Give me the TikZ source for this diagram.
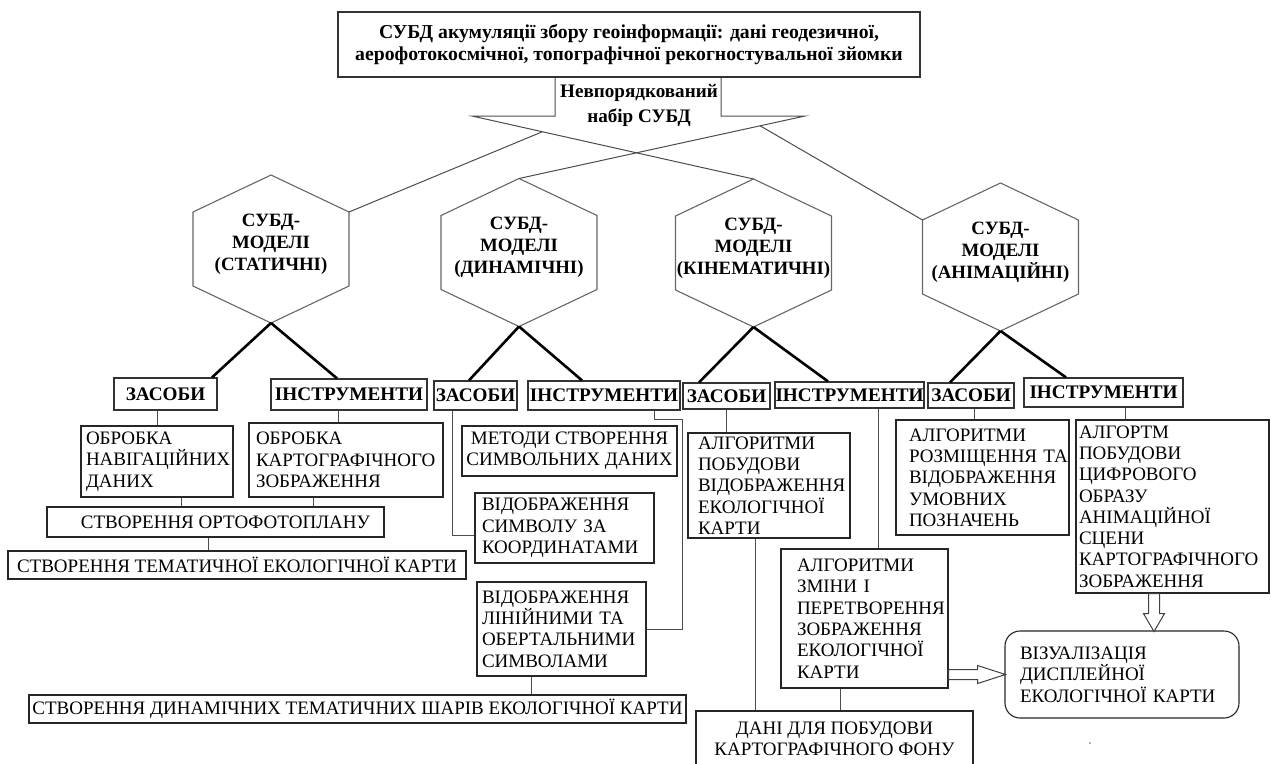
\documentclass[tikz,border=0pt]{standalone}
\usepackage{fontspec}
\setmainfont{Liberation Serif}
\usepackage{tikz}
\usetikzlibrary{calc}
\tikzset{
  top_box/.style={rectangle, draw=black!80, line width=1.2pt, inner sep=0pt, align=center, font=\fontsize{19.7}{21.5}\selectfont\bfseries},
  callout_label/.style={inner sep=0pt, align=center, font=\fontsize{19.1}{25}\selectfont\bfseries},
  hex_line/.style={draw=black!60, line width=1.1pt, line join=miter},
  hex_text/.style={inner sep=0pt, align=center, font=\fontsize{18.8}{22}\selectfont\bfseries},
  tool_box/.style={rectangle, draw=black!80, line width=1.2pt, inner sep=0pt, font=\fontsize{19.2}{21}\selectfont\bfseries},
  op_box/.style={rectangle, draw=black!85, line width=1.1pt, inner ysep=0pt, align=left, font=\fontsize{19}{21.3}\selectfont},
  op_box_c/.style={op_box, align=center, inner xsep=0pt},
  vis_box/.style={op_box, rounded corners=15pt},
  link/.style={draw=black!70, line width=1pt},
  branch/.style={draw=black, line width=2.6pt},
  fat_arrow/.style={draw=black!75, fill=white, line width=1pt, line join=miter}
}

\begin{document}
\begin{tikzpicture}[x=1pt, y=-1pt]
    \useasboundingbox (0,0) rectangle (1271,763);

    % Source DBMS and the unsorted set
    \node[top_box, minimum width=582, minimum height=65] (source) at (629,44.5) {СУБД акумуляції збору геоінформації: дані геодезичної,\\аерофотокосмічної, топографічної рекогностувальної зйомки};
    \node[callout_label] (unsorted) at (639,105) {Невпорядкований\\набір СУБД};
    \coordinate (neck_l) at (555,116);
    \coordinate (neck_r) at (721,116);
    \coordinate (call_l) at (472,116);
    \coordinate (call_r) at (805,116);

    % Model hexagons (text sits a little above the centre)
    \node[hex_text] (hex_stat) at (271,244) {СУБД-\\МОДЕЛІ\\(СТАТИЧНІ)};
    \node[hex_text] (hex_dyn) at (519,247.5) {СУБД-\\МОДЕЛІ\\(ДИНАМІЧНІ)};
    \node[hex_text] (hex_kin) at (753.5,248) {СУБД-\\МОДЕЛІ\\(КІНЕМАТИЧНІ)};
    \node[hex_text] (hex_anim) at (1000.5,252) {СУБД-\\МОДЕЛІ\\(АНІМАЦІЙНІ)};
    \foreach \h in {hex_stat,hex_dyn,hex_kin,hex_anim}
      \draw[hex_line] (\h.center) ++(0,-69) coordinate (\h_top) -- ++(78,37) coordinate (\h_tr) -- ++(0,74) -- ++(-78,37) coordinate (\h_bot) -- ++(-78,-37) -- ++(0,-74) coordinate (\h_tl) -- cycle;

    \draw[link] (neck_l |- source.south) -- (neck_l) -- (call_l) -- (hex_kin_top);
    \draw[link] (neck_r |- source.south) -- (neck_r) -- (call_r) -- (hex_dyn_top);
    \draw[link] ($(call_l)!0.25!(hex_kin_top)$) -- (hex_stat_tr);
    \draw[link] ($(call_r)!0.157!(hex_dyn_top)$) -- (hex_anim_tl);

    % Means and tools
    \node[tool_box, minimum width=103, minimum height=32] (zas_stat) at (165.5,394) {ЗАСОБИ};
    \node[tool_box, minimum width=156, minimum height=31] (inst_stat) at (349,394.5) {ІНСТРУМЕНТИ};
    \node[tool_box, minimum width=83, minimum height=29] (zas_dyn) at (475.5,395.5) {ЗАСОБИ};
    \node[tool_box, minimum width=152, minimum height=29] (inst_dyn) at (604,395.5) {ІНСТРУМЕНТИ};
    \node[tool_box, minimum width=87, minimum height=26] (zas_kin) at (726.5,396) {ЗАСОБИ};
    \node[tool_box, minimum width=149, minimum height=26] (inst_kin) at (849.5,395) {ІНСТРУМЕНТИ};
    \node[tool_box, minimum width=86, minimum height=25] (zas_anim) at (971,395.5) {ЗАСОБИ};
    \node[tool_box, minimum width=159, minimum height=29] (inst_anim) at (1103.5,392.5) {ІНСТРУМЕНТИ};

    \draw[branch] (hex_stat_bot) -- ([xshift=46.5pt]zas_stat.north);
    \draw[branch] (hex_stat_bot) -- ([xshift=-12pt]inst_stat.north);
    \draw[branch] (hex_dyn_bot) -- ([xshift=-6.5pt]zas_dyn.north);
    \draw[branch] (hex_dyn_bot) -- ([xshift=-22pt]inst_dyn.north);
    \draw[branch] (hex_kin_bot) -- ([xshift=-27.5pt]zas_kin.north);
    \draw[branch] (hex_kin_bot) -- ([xshift=-21.5pt]inst_kin.north);
    \draw[branch] (hex_anim_bot) -- ([xshift=-21pt]zas_anim.north);
    \draw[branch] (hex_anim_bot) -- ([xshift=-37.5pt]inst_anim.north);

    % Static branch
    \node[op_box, text width=142, inner xsep=5, minimum height=71] (navig) at (157,461.5) {ОБРОБКА\\НАВІГАЦІЙНИХ\\ДАНИХ};
    \node[op_box, text width=180, inner xsep=7, minimum height=74] (kartobr) at (346,460) {ОБРОБКА\\КАРТОГРАФІЧНОГО\\ЗОБРАЖЕННЯ};
    \node[op_box_c, minimum width=337, minimum height=30] (orto) at (215.5,522) {\hspace*{20pt}СТВОРЕННЯ ОРТОФОТОПЛАНУ};
    \node[op_box_c, minimum width=458, minimum height=28] (them) at (237,565) {СТВОРЕННЯ ТЕМАТИЧНОЇ ЕКОЛОГІЧНОЇ КАРТИ};

    \draw[link] (navig.north) -- (navig.north |- zas_stat.south);
    \draw[link] ([xshift=-8pt]kartobr.north) -- ([xshift=-8pt]kartobr.north |- inst_stat.south);
    \draw[link] ([xshift=24pt]navig.south) -- ([xshift=24pt]navig.south |- orto.north);
    \draw[link] ([xshift=-33pt]kartobr.south) -- ([xshift=-33pt]kartobr.south |- orto.north);
    \draw[link] ([xshift=-7.5pt]orto.south) -- ([xshift=-7.5pt]orto.south |- them.north);

    % Dynamic branch
    \node[op_box_c, minimum width=215, minimum height=50] (metody) at (569.5,451) {МЕТОДИ СТВОРЕННЯ\\СИМВОЛЬНИХ ДАНИХ};
    \node[op_box, text width=165, inner xsep=7, minimum height=70] (simvol) at (564.5,528) {ВІДОБРАЖЕННЯ\\СИМВОЛУ~ЗА\\КООРДИНАТАМИ};
    \node[op_box, text width=159, inner xsep=5, minimum height=94] (linsym) at (561.5,629) {ВІДОБРАЖЕННЯ\\ЛІНІЙНИМИ~ТА\\ОБЕРТАЛЬНИМИ\\СИМВОЛАМИ};
    \node[op_box_c, minimum width=657, minimum height=28] (dynlayers) at (357.5,709) {СТВОРЕННЯ ДИНАМІЧНИХ ТЕМАТИЧНИХ ШАРІВ ЕКОЛОГІЧНОЇ КАРТИ};

    \draw[link] ([xshift=-23.5pt]zas_dyn.south) |- ([yshift=-7pt]simvol.west);
    \draw[link] ([xshift=50pt]inst_dyn.south) -- ++(0,9) -- ++(28,0) |- (linsym.east);
    \draw[link] ([xshift=-30.5pt]linsym.south) -- ([xshift=-30.5pt]linsym.south |- dynlayers.north);

    % Kinematic branch
    \node[op_box, text width=142, inner xsep=10, minimum height=105] (alg_pob) at (769,485.5) {АЛГОРИТМИ\\ПОБУДОВИ\\ВІДОБРАЖЕННЯ\\ЕКОЛОГІЧНОЇ\\КАРТИ};
    \node[op_box, text width=135, inner xsep=16, minimum height=139] (alg_zmin) at (864.5,618.5) {АЛГОРИТМИ\\ЗМІНИ~І\\ПЕРЕТВОРЕННЯ\\ЗОБРАЖЕННЯ\\ЕКОЛОГІЧНОЇ\\КАРТИ};
    \node[op_box_c, minimum width=277, minimum height=56] (dani) at (834.5,739) {ДАНІ ДЛЯ ПОБУДОВИ\\КАРТОГРАФІЧНОГО ФОНУ};

    \draw[link] (zas_kin.south) -- (zas_kin.south |- alg_pob.north);
    \draw[link] ([xshift=-14pt]alg_pob.south) -- ([xshift=-14pt]alg_pob.south |- dani.north);
    \draw[link] ([xshift=28.5pt]inst_kin.south) -- ([xshift=28.5pt]inst_kin.south |- alg_zmin.north);
    \draw[link] ([xshift=-24.5pt]alg_zmin.south) -- ([xshift=-24.5pt]alg_zmin.south |- dani.north);

    % Animation branch
    \node[op_box, text width=147, inner xsep=13, minimum height=115] (alg_rozm) at (982.5,477.5) {АЛГОРИТМИ\\РОЗМІЩЕННЯ~ТА\\ВІДОБРАЖЕННЯ\\УМОВНИХ\\ПОЗНАЧЕНЬ};
    \node[op_box, text width=187, inner xsep=3, minimum height=173] (alg_anim) at (1172.5,506.5) {АЛГОРТМ\\ПОБУДОВИ\\ЦИФРОВОГО\\ОБРАЗУ\\АНІМАЦІЙНОЇ\\СЦЕНИ\\КАРТОГРАФІЧНОГО\\ЗОБРАЖЕННЯ};
    \node[vis_box, text width=204, inner xsep=15, minimum height=87] (vis) at (1122,674.5) {ВІЗУАЛІЗАЦІЯ\\ДИСПЛЕЙНОЇ\\ЕКОЛОГІЧНОЇ~КАРТИ};

    \draw[link] ([xshift=3pt]zas_anim.south) -- ([xshift=3pt]zas_anim.south |- alg_rozm.north);
    \draw[link] ([xshift=21.5pt]inst_anim.south) -- ([xshift=21.5pt]inst_anim.south |- alg_anim.north);

    % Hollow arrows into the display map
    \draw[fat_arrow] ([xshift=-18.5pt]alg_anim.south) ++(-5.5,0) -- ++(0,20) -- ++(-5,0) -- ++(10.5,18) -- ++(10.5,-18) -- ++(-5,0) -- ++(0,-20) -- cycle;
    \draw[fat_arrow] (alg_zmin.east |- vis.west) ++(0,-5) -- ++(29,0) -- ++(0,-4) -- ++(28,9) -- ++(-28,9) -- ++(0,-4) -- ++(-29,0) -- cycle;

    \fill[black!60] (1090,743) circle (0.8pt);
\end{tikzpicture}
\end{document}
